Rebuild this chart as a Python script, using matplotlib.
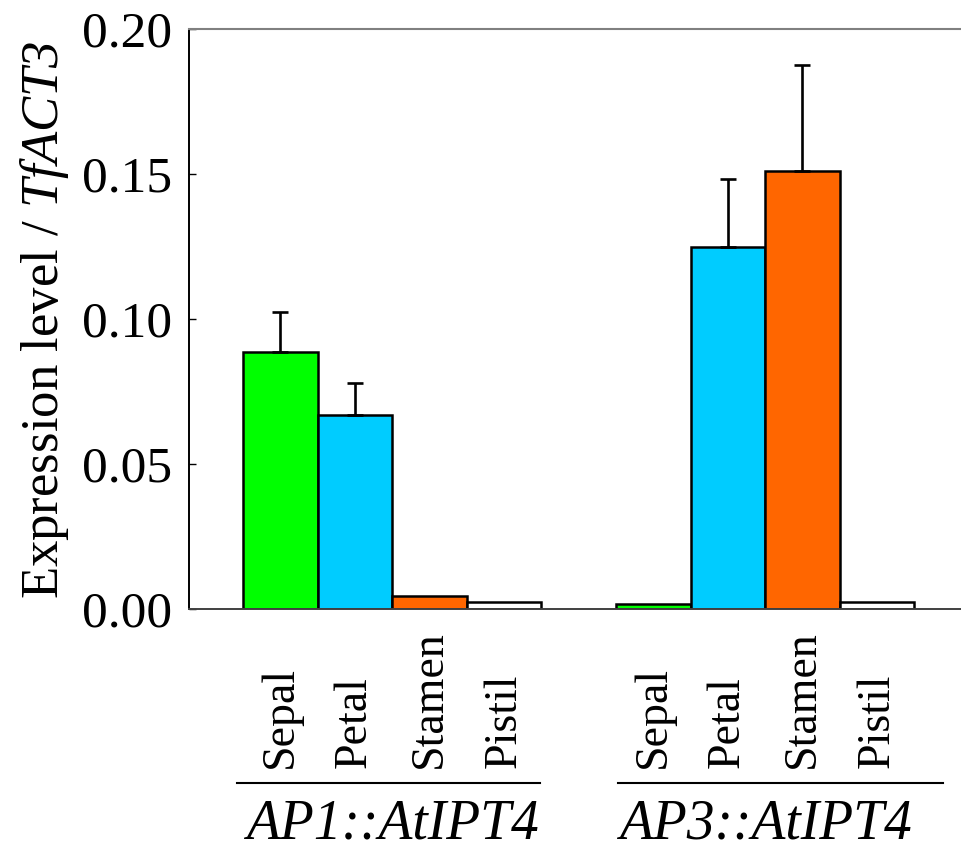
import numpy as np
import matplotlib
matplotlib.use("Agg")
import matplotlib.pyplot as plt
from matplotlib.transforms import blended_transform_factory

plt.rcParams['font.family'] = 'Liberation Serif'
plt.rcParams['mathtext.fontset'] = 'custom'
plt.rcParams['mathtext.rm'] = 'Liberation Serif:italic'
plt.rcParams['mathtext.it'] = 'Liberation Serif:italic'

tissues = ['Sepal', 'Petal', 'Stamen', 'Pistil']
groups = ['AP1::AtIPT4', 'AP3::AtIPT4']
colors = ['#00ff00', '#00ccff', '#ff6600', '#ffffff']

# expression values and upper error per group (Sepal, Petal, Stamen, Pistil)
ap1_mean = [0.0886, 0.0669, 0.0045, 0.0025]
ap1_err = [0.0138, 0.0110, 0.0, 0.0]
ap3_mean = [0.0017, 0.1249, 0.1510, 0.0025]
ap3_err = [0.0, 0.0234, 0.0366, 0.0]

fig = plt.figure(figsize=(9.62, 8.49), dpi=100)
ax = fig.add_axes([0.1965, 0.2827, 0.8035, 0.6831])

pos1 = np.arange(4)
pos2 = np.arange(4) + 5
for pos, mean, err in [(pos1, ap1_mean, ap1_err), (pos2, ap3_mean, ap3_err)]:
    ax.bar(pos, mean, width=1.0, color=colors, edgecolor='black', linewidth=1.8, zorder=2)
    e = np.array(err)
    m = e > 0
    ax.errorbar(pos[m], np.array(mean)[m], yerr=[np.zeros(m.sum()), e[m]],
                fmt='none', ecolor='black', elinewidth=1.9, capsize=5.5, capthick=1.9, zorder=3)

ax.set_xlim(-1.224, 9.14)
ax.set_ylim(0, 0.20)
ax.set_yticks([0, 0.05, 0.10, 0.15, 0.20])
ax.set_yticklabels(['0.00', '0.05', '0.10', '0.15', '0.20'])
ax.tick_params(axis='y', direction='in', length=5, width=1, pad=12, labelsize=37)
ax.set_xticks([])

ax.spines['right'].set_visible(False)
ax.spines['left'].set_color('black')
ax.spines['left'].set_linewidth(1.4)
ax.spines['top'].set_color('#808080')
ax.spines['top'].set_linewidth(1.5)
ax.spines['bottom'].set_color('#404040')
ax.spines['bottom'].set_linewidth(1.4)

tr = blended_transform_factory(ax.transData, ax.transAxes)
for pos in (pos1, pos2):
    for x, name in zip(pos, tissues):
        ax.text(x, -0.274, name, rotation=90, ha='center', va='bottom',
                fontsize=33, transform=tr, clip_on=False)

lines = [(-0.58, 3.48), (4.53, 8.88)]
centers = [1.5, 6.5]
for (x0, x1), c, g in zip(lines, centers, groups):
    ax.plot([x0, x1], [-0.30, -0.30], color='black', lw=1.5, transform=tr, clip_on=False)
    ax.text(c, -0.395, g, ha='center', va='baseline', fontstyle='italic',
            fontsize=40, transform=tr, clip_on=False)

fig.text(45 / 962, 1 - 320 / 849, 'Expression level / $TfACT3$', rotation=90,
         ha='center', va='center', fontsize=38)

fig.savefig('out.png', dpi=100)
